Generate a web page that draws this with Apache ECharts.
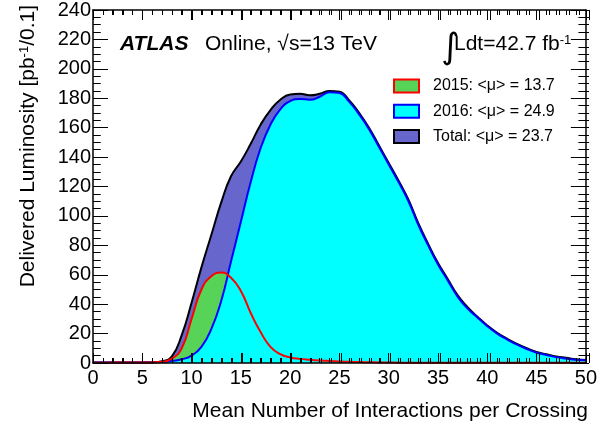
<!DOCTYPE html>
<html>
<head>
<meta charset="utf-8">
<script src="https://cdn.jsdelivr.net/npm/echarts@6/dist/echarts.min.js"></script>
</head>
<body style="margin:0;padding:0;background:#fff">
<div id="chart" style="width:600px;height:425px"></div>
<script>
// Mean number of interactions per crossing (bin centres)
var mu = [0,1,2,3,4,5,6,7,8,9,10,11,12,13,14,15,16,17,18,19,20,21,22,23,24,25,26,27,28,29,30,31,32,33,34,35,36,37,38,39,40,41,42,43,44,45,46,47,48,49,50];
// Delivered luminosity [pb^-1/0.1]
var lumiTotal = [0.3,0.3,0.3,0.3,0.3,0.4,0.5,1.2,4.5,19,41,65,87,109,127,137,149,162,172,179,182.5,183,182,183,185,184.5,178.5,170,160,148,136,124,111,95,81,68,57,46,38,31.5,25.5,20.5,16.5,13,10,7.5,6,4.5,3.5,2.5,2];
var lumi2016 = [0.3,0.3,0.3,0.3,0.3,0.3,0.4,0.7,1.5,2.5,5,11,23,42,69,96,123,146,162,172.5,178,179.5,179,181,184,183.5,177.5,169,159,147,135,123,110,94,80,67,56,45,37,31,25,20,16,12.5,9.5,7,5.5,4,3,2.2,1.8];
var lumi2015 = [0.2,0.2,0.3,0.3,0.3,0.3,0.4,0.8,3,10,30,50,59,61.5,58,49,34,21,11,6,3.8,2.8,2.2,1.7,1.3,1.0,0.8,0.6,0.5,0.4,0.3,0.25,0.2,0.2,0.2,0.15,0.15,0.1,0.1,0.1,0.1,0.1,0.1,0.1,0.1,0.1,0.1,0.1,0.1,0.1,0.1];
var names = ['2015: <\u03bc> = 13.7', '2016: <\u03bc> = 24.9', 'Total: <\u03bc> = 23.7'];
var xTicks = {min:0, max:50, interval:5, minorInterval:1, minorSplit:5};
var yTicks = {min:0, max:240, interval:20, minorInterval:5, minorSplit:4};

function pairs(ys){ return mu.map(function(x,i){ return [x, ys[i]]; }); }
var FONT = '"Liberation Sans", Arial, Helvetica, sans-serif';

function makeAxis(t, pos, majorLen, showLabel, labelMargin){
  return {
    type:'value', gridIndex:0, position:pos, min:t.min, max:t.max, interval:t.interval, z:10,
    axisLine:{show:true, onZero:false, lineStyle:{color:'#000', width:1.5}},
    axisTick:{show:true, inside:true, length:majorLen, lineStyle:{color:'#000', width:1}},
    minorTick:{show:true, splitNumber:t.minorSplit, length:majorLen/2, lineStyle:{color:'#000', width:1}},
    splitLine:{show:false},
    axisLabel:{show:showLabel, margin:labelMargin, fontSize:20, color:'#000', fontFamily:FONT, showMinLabel:true, showMaxLabel:true}
  };
}
// thin strip axes: their split lines act as the frame's inward tick marks
function stripAxis(t, gi, iv){
  return {type:'value', gridIndex:gi, min:t.min, max:t.max, interval:iv, z:10,
    axisLine:{show:false}, axisTick:{show:false}, axisLabel:{show:false},
    splitLine:{show:true, lineStyle:{color:'#000', width:1, type:'solid'}}};
}
function hiddenAxis(t, gi){
  return {type:'value', gridIndex:gi, min:t.min, max:t.max, show:false};
}

var grids = [
  {left:93, right:11, top:10, bottom:62, containLabel:false},
  {left:93, right:11, top:353, height:10},   // bottom major
  {left:93, right:11, top:358, height:5},    // bottom minor
  {left:93, right:11, top:10, height:10},    // top major
  {left:93, right:11, top:10, height:5},     // top minor
  {left:93, width:15, top:10, bottom:62},    // left major
  {left:93, width:7.5, top:10, bottom:62},   // left minor
  {right:11, width:15, top:10, bottom:62},   // right major
  {right:11, width:7.5, top:10, bottom:62}   // right minor
];
var xAxes = [ makeAxis(xTicks,'bottom',10,true,5), makeAxis(xTicks,'top',10,false,0),
  stripAxis(xTicks,1,xTicks.interval), stripAxis(xTicks,2,xTicks.minorInterval),
  stripAxis(xTicks,3,xTicks.interval), stripAxis(xTicks,4,xTicks.minorInterval),
  hiddenAxis(xTicks,5), hiddenAxis(xTicks,6), hiddenAxis(xTicks,7), hiddenAxis(xTicks,8) ];
var yAxes = [ makeAxis(yTicks,'left',15,true,2), makeAxis(yTicks,'right',15,false,0),
  hiddenAxis(yTicks,1), hiddenAxis(yTicks,2), hiddenAxis(yTicks,3), hiddenAxis(yTicks,4),
  stripAxis(yTicks,5,yTicks.interval), stripAxis(yTicks,6,yTicks.minorInterval),
  stripAxis(yTicks,7,yTicks.interval), stripAxis(yTicks,8,yTicks.minorInterval) ];

var option = {
  animation:false,
  backgroundColor:'#fff',
  grid:grids,
  xAxis:xAxes,
  yAxis:yAxes,
  legend:{
    orient:'vertical', left:388, top:73,
    itemWidth:25, itemHeight:13, itemGap:9.3,
    selectedMode:false,
    textStyle:{fontSize:16, color:'#000', fontFamily:FONT, lineHeight:13, padding:[0,0,0,9]},
    data:[
      {name:names[0], icon:'rect', itemStyle:{color:'#57d357', borderColor:'#ff0000', borderWidth:2}},
      {name:names[1], icon:'rect', itemStyle:{color:'#00ffff', borderColor:'#0000ff', borderWidth:2}},
      {name:names[2], icon:'rect', itemStyle:{color:'#6666cc', borderColor:'#000000', borderWidth:2}}
    ]
  },
  series:[
    {name:names[2], type:'line', xAxisIndex:0, yAxisIndex:0, data:pairs(lumiTotal), smooth:true, showSymbol:false, symbol:'none',
      lineStyle:{color:'#000', width:2}, itemStyle:{color:'#6666cc'}, areaStyle:{color:'#6666cc', opacity:1}},
    {name:names[0], type:'line', xAxisIndex:0, yAxisIndex:0, data:pairs(lumi2015), smooth:true, showSymbol:false, symbol:'none',
      lineStyle:{width:0, color:'#57d357'}, itemStyle:{color:'#57d357'}, areaStyle:{color:'#57d357', opacity:1}},
    {name:names[1], type:'line', xAxisIndex:0, yAxisIndex:0, data:pairs(lumi2016), smooth:true, showSymbol:false, symbol:'none',
      lineStyle:{color:'#0000ff', width:2}, itemStyle:{color:'#00ffff'}, areaStyle:{color:'#00ffff', opacity:1}},
    {name:'2015 outline', type:'line', xAxisIndex:0, yAxisIndex:0, data:pairs(lumi2015), smooth:true, showSymbol:false, symbol:'none',
      lineStyle:{color:'#ff0000', width:2}, itemStyle:{color:'#ff0000'}}
  ],
  graphic:[
    {type:'text', left:120, top:34, style:{text:'ATLAS', font:'italic bold 21px ' + FONT, fill:'#000'}},
    {type:'text', left:205, top:34, style:{text:'Online, \u221As=13 TeV', font:'21px ' + FONT, fill:'#000'}},
    {type:'text', left:441, top:31, style:{text:'\u222B', font:'35px "DejaVu Sans", sans-serif', fill:'#000'}},
    {type:'text', left:454, top:34, style:{
      text:'{a|Ldt=42.7 fb}{s|-1}',
      rich:{a:{fontSize:21, fontFamily:FONT, color:'#000', verticalAlign:'bottom'},
            s:{fontSize:13, fontFamily:FONT, color:'#000', verticalAlign:'top', padding:[0,0,8,0]}}}},
    {type:'text', right:12, top:401, style:{text:'Mean Number of Interactions per Crossing', font:'21px ' + FONT, fill:'#000'}},
    {type:'text', x:28, y:5, rotation:Math.PI/2, style:{
      text:'{a|Delivered Luminosity [pb}{s|-1}{a|/0.1]}',
      align:'right', verticalAlign:'middle',
      rich:{a:{fontSize:21, fontFamily:FONT, color:'#000', verticalAlign:'bottom'},
            s:{fontSize:13, fontFamily:FONT, color:'#000', verticalAlign:'top', padding:[0,0,6,0]}}}}
  ]
};
var chart = echarts.init(document.getElementById('chart'), null, {renderer:'canvas'});
chart.setOption(option);
</script>
</body>
</html>
